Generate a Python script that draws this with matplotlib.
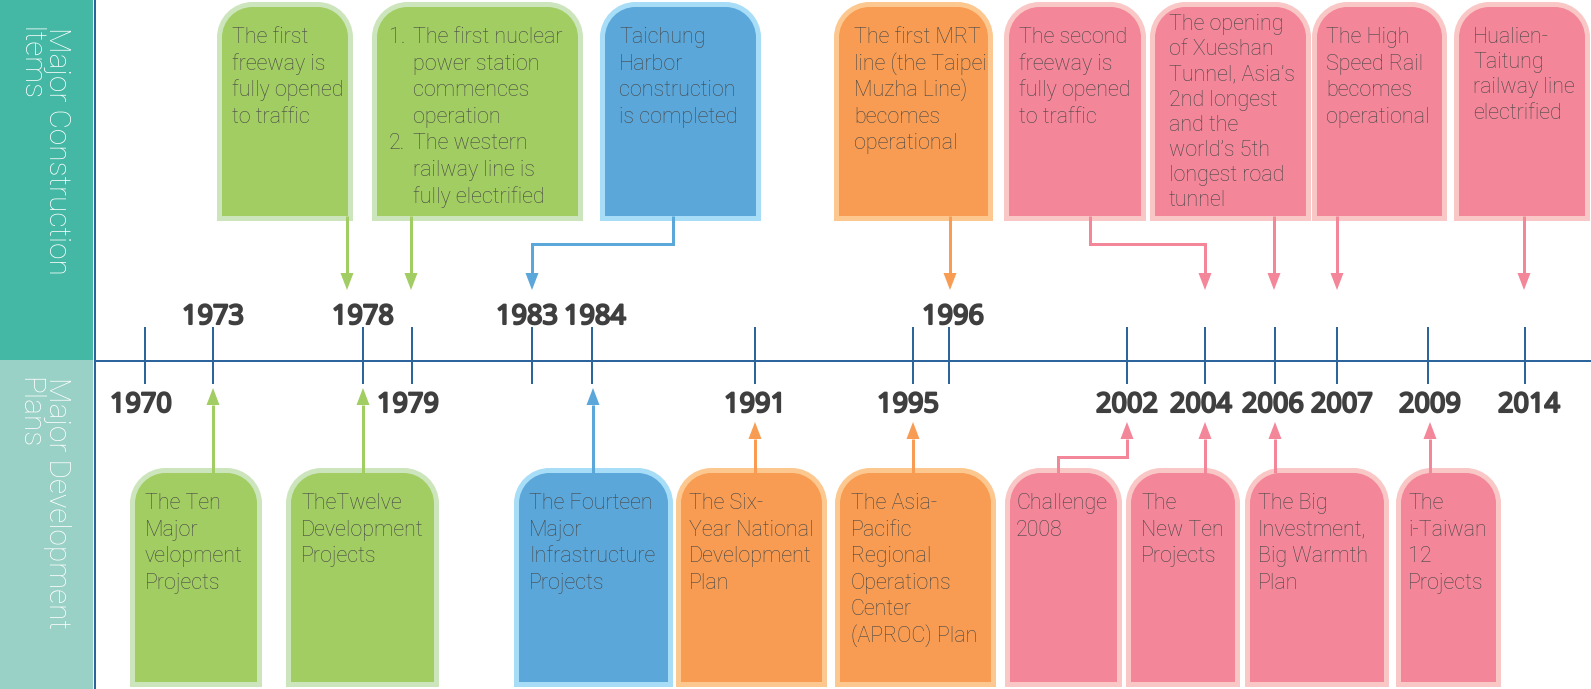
import re
import matplotlib
matplotlib.use("Agg")
import matplotlib.pyplot as plt
import matplotlib.patheffects as pe
from matplotlib.path import Path
from matplotlib.patches import PathPatch, Polygon, Rectangle

# ------------------------------------------------------------------ data
top_years = [1973, 1978, 1983, 1984, 1996]
bottom_years = [1970, 1979, 1991, 1995, 2002, 2004, 2006, 2007, 2009, 2014]

item_texts = [
    ["The first", "freeway is", "fully opened", "to traffic"],
    ["1. The first nuclear", "power station", "commences", "operation",
     "2. The western", "railway line is", "fully electrified"],
    ["Taichung", "Harbor", "construction", "is completed"],
    ["The first MRT", "line (the Taipei", "Muzha Line)", "becomes", "operational"],
    ["The second", "freeway is", "fully opened", "to traffic"],
    ["The opening", "of Xueshan", "Tunnel, Asia\u2019s", "2nd longest", "and the",
     "world\u2019s 5th", "longest road", "tunnel"],
    ["The High", "Speed Rail", "becomes", "operational"],
    ["Hualien-", "Taitung", "railway line", "electrified"],
]
item_years = [1978, 1979, 1983, 1996, 2004, 2006, 2007, 2014]
item_groups = ["green", "green", "blue", "orange", "pink", "pink", "pink", "pink"]

plan_texts = [
    ["The Ten", "Major", "velopment", "Projects"],
    ["TheTwelve", "Development", "Projects"],
    ["The Fourteen", "Major", "Infrastructure", "Projects"],
    ["The Six-", "Year National", "Development", "Plan"],
    ["The Asia-", "Pacific", "Regional", "Operations", "Center", "(APROC) Plan"],
    ["Challenge", "2008"],
    ["The", "New Ten", "Projects"],
    ["The Big", "Investment,", "Big Warmth", "Plan"],
    ["The", "i-Taiwan", "12", "Projects"],
]
plan_years = [1973, 1978, 1984, 1991, 1995, 2002, 2004, 2006, 2009]
plan_groups = ["green", "green", "blue", "orange", "orange", "pink", "pink", "pink", "pink"]

section_labels = ["Major Construction\nItems", "Major Development\nPlans"]

# ------------------------------------------------------------------ layout (pixels)
W, H = 1591, 689
slot_x = {1970: 145, 1973: 213, 1978: 363, 1979: 412, 1983: 532, 1984: 592,
          1991: 755, 1995: 913, 1996: 949, 2002: 1127, 2004: 1205, 2006: 1275,
          2007: 1337, 2009: 1428, 2014: 1525}
label_dx = {1970: -4, 1979: -4, 1983: -5, 1984: 3, 1995: -5, 1996: 4, 2004: -4,
            2006: -2, 2007: 5, 2009: 2, 2014: 4}
axis_y = 361
tick_top, tick_bot = 328, 383

item_box_x = [(217, 353), (372, 583), (600, 761), (834, 993), (1004, 1146),
              (1150, 1311), (1312, 1447), (1454, 1590)]
item_stem_x = [347, 411, 673, 950, 1090, 1274, 1337, 1524]
item_elbow = [False, False, True, False, True, False, False, False]
item_text_x = [232, 413, 619, 854, 1019, 1169, 1326, 1473]
item_first_base = [43, 43, 43, 43, 43, 30, 43, 43]
item_pitch = [26.6, 26.6, 26.6, 26.6, 26.6, 25.2, 26.6, 25.2]
item_box_y = (2, 221)

plan_box_x = [(130, 262), (286, 439), (514, 673), (676, 827), (835, 996),
              (1005, 1122), (1126, 1240), (1245, 1389), (1396, 1501)]
plan_stem_x = [213, 363, 593, 755, 913, 1058, 1205, 1275, 1430]
plan_elbow = [False, False, False, False, False, True, False, False, False]
plan_text_x = [145, 301, 529, 689, 851, 1016, 1141, 1258, 1408]
plan_box_y = (468, 687)

colors = {
    "green": ("#A2CD62", "#CDE5BC"),
    "blue": ("#5BA7DA", "#A7DDF7"),
    "orange": ("#F79C52", "#FDC88F"),
    "pink": ("#F38699", "#FAC7C7"),
}
teal = "#44B8A4"
teal_light = "#9AD1C6"
line_blue = "#2B659B"
text_color = "#474747"
year_color = "#3F3F3F"

body_font = dict(family=["Roboto", "DejaVu Sans"], fontweight="light", fontsize=15.5)
year_font = dict(family=["Noto Sans", "DejaVu Sans"], fontweight="bold",
                 fontstretch="condensed", fontsize=19.5)
year_fx = [pe.withStroke(linewidth=1.5, foreground=year_color)]

PX = 72.0 / 100.0  # points per pixel

fig = plt.figure(figsize=(W / 100, H / 100), dpi=100)
ax = fig.add_axes([0, 0, 1, 1])
ax.set_xlim(0, W)
ax.set_ylim(H, 0)
ax.axis("off")


def round_top_box(x0, x1, yt, yb, face, edge, border=5.0, r=33.0):
    b = border / 2.0
    x0, x1, yt, yb = x0 + b, x1 - b, yt + b, yb - b
    k = 0.5523 * r
    verts = [(x0, yb), (x0, yt + r),
             (x0, yt + r - k), (x0 + r - k, yt), (x0 + r, yt),
             (x1 - r, yt),
             (x1 - r + k, yt), (x1, yt + r - k), (x1, yt + r),
             (x1, yb), (x0, yb)]
    codes = [Path.MOVETO, Path.LINETO,
             Path.CURVE4, Path.CURVE4, Path.CURVE4,
             Path.LINETO,
             Path.CURVE4, Path.CURVE4, Path.CURVE4,
             Path.LINETO, Path.CLOSEPOLY]
    ax.add_patch(PathPatch(Path(verts, codes), facecolor=face, edgecolor=edge,
                           linewidth=border * PX, joinstyle="miter", zorder=2))


def arrow(points, color, direction, head_w=13.0, head_l=17.0):
    xs = [p[0] for p in points]
    ys = [p[1] for p in points]
    tipx, tipy = points[-1]
    base = tipy - direction * head_l
    ys[-1] = base
    ax.plot(xs, ys, color=color, lw=3 * PX, solid_joinstyle="miter",
            solid_capstyle="butt", zorder=3)
    ax.add_patch(Polygon([(tipx - head_w / 2, base), (tipx + head_w / 2, base),
                          (tipx, tipy)], closed=True, facecolor=color,
                         edgecolor="none", zorder=3))


def draw_lines(x, first_base, pitch, lines):
    for i, line in enumerate(lines):
        y = first_base + i * pitch
        m = re.match(r"^(\d\.)\s(.*)$", line)
        if m:
            ax.text(x - 24, y, m.group(1), color=text_color, va="baseline",
                    ha="left", zorder=4, **body_font)
            ax.text(x, y, m.group(2), color=text_color, va="baseline",
                    ha="left", zorder=4, **body_font)
        else:
            ax.text(x, y, line, color=text_color, va="baseline", ha="left",
                    zorder=4, **body_font)


# side bars
ax.add_patch(Rectangle((0, 0), 93, 360, facecolor=teal, edgecolor="none", zorder=1))
ax.add_patch(Rectangle((0, 360), 93, H - 360, facecolor=teal_light,
                       edgecolor="none", zorder=1))
for label, ytop in zip(section_labels, [27, 377]):
    ax.text(43, ytop, label, rotation=270, ha="center", va="top",
            multialignment="left", color="white", fontsize=21.5,
            family=["Roboto", "DejaVu Sans"], fontweight="light",
            linespacing=1.0, zorder=4)

# axis lines
ax.plot([95, 95], [0, H], color=line_blue, lw=2 * PX, zorder=2)
ax.plot([95, W], [axis_y, axis_y], color=line_blue, lw=2 * PX, zorder=2)
for yr, x in slot_x.items():
    ax.plot([x, x], [tick_top, tick_bot], color=line_blue, lw=2 * PX, zorder=2)

for yr in top_years:
    ax.text(slot_x[yr] + label_dx.get(yr, 0), 324, str(yr), ha="center",
            va="baseline", color=year_color, zorder=4, path_effects=year_fx,
            **year_font)
for yr in bottom_years:
    ax.text(slot_x[yr] + label_dx.get(yr, 0), 412, str(yr), ha="center",
            va="baseline", color=year_color, zorder=4, path_effects=year_fx,
            **year_font)

# construction items (top)
for i, lines in enumerate(item_texts):
    face, edge = colors[item_groups[i]]
    x0, x1 = item_box_x[i]
    round_top_box(x0, x1, item_box_y[0], item_box_y[1], face, edge)
    draw_lines(item_text_x[i], item_first_base[i], item_pitch[i], lines)
    sx = item_stem_x[i]
    start = item_box_y[1] - 5
    tip = 290
    if item_elbow[i]:
        tx = slot_x[item_years[i]]
        pts = [(sx, start), (sx, 244), (tx, 244), (tx, tip)]
    else:
        pts = [(sx, start), (sx, tip)]
    arrow(pts, face, +1)

# development plans (bottom)
for i, lines in enumerate(plan_texts):
    face, edge = colors[plan_groups[i]]
    x0, x1 = plan_box_x[i]
    round_top_box(x0, x1, plan_box_y[0], plan_box_y[1], face, edge)
    draw_lines(plan_text_x[i], 509, 26.6, lines)
    sx = plan_stem_x[i]
    start = plan_box_y[0] + 5
    tip = 422 if plan_years[i] in bottom_years else 388
    if plan_elbow[i]:
        tx = slot_x[plan_years[i]]
        pts = [(sx, start), (sx, 457), (tx, 457), (tx, tip)]
    else:
        pts = [(sx, start), (sx, tip)]
    arrow(pts, face, -1)

fig.savefig("out.png", dpi=100)
